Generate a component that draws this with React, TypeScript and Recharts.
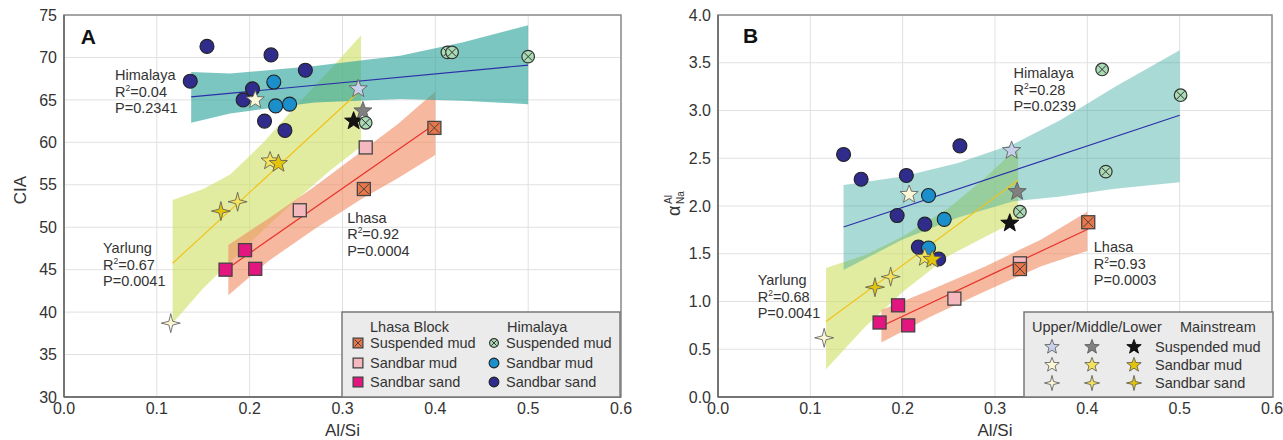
import React from "react";
import {
  ComposedChart,
  Scatter,
  Line,
  Area,
  XAxis,
  YAxis,
  CartesianGrid,
  ReferenceArea,
  ReferenceDot,
} from "recharts";

const FONT = "'Liberation Sans', Arial, Helvetica, sans-serif";

const xTicks = [0, 0.1, 0.2, 0.3, 0.4, 0.5, 0.6];
const ciaTicks = [30, 35, 40, 45, 50, 55, 60, 65, 70, 75];
const alphaTicks = [0, 0.5, 1, 1.5, 2, 2.5, 3, 3.5, 4];

// ---------- Panel A : CIA vs Al/Si ----------
const aHimSuspMud = [
  { x: 0.413, y: 70.6 },
  { x: 0.418, y: 70.6 },
  { x: 0.5, y: 70.1 },
  { x: 0.325, y: 62.3 },
];
const aHimSandbarMud = [
  { x: 0.226, y: 67.1 },
  { x: 0.228, y: 64.3 },
  { x: 0.243, y: 64.5 },
];
const aHimSandbarSand = [
  { x: 0.154, y: 71.3 },
  { x: 0.136, y: 67.2 },
  { x: 0.223, y: 70.3 },
  { x: 0.26, y: 68.5 },
  { x: 0.203, y: 66.3 },
  { x: 0.193, y: 65.0 },
  { x: 0.216, y: 62.5 },
  { x: 0.238, y: 61.4 },
];
const aLhSuspMud = [
  { x: 0.399, y: 61.7 },
  { x: 0.323, y: 54.5 },
];
const aLhSandbarMud = [
  { x: 0.325, y: 59.4 },
  { x: 0.254, y: 52.0 },
];
const aLhSandbarSand = [
  { x: 0.195, y: 47.3 },
  { x: 0.174, y: 45.0 },
  { x: 0.206, y: 45.1 },
];
const aUpperSusp = [{ x: 0.317, y: 66.3 }];
const aMiddleSusp = [{ x: 0.322, y: 63.7 }];
const aMainSusp = [{ x: 0.312, y: 62.5 }];
const aUpperMud = [{ x: 0.206, y: 65.0 }];
const aMiddleMud = [{ x: 0.222, y: 57.8 }];
const aMainMud = [{ x: 0.231, y: 57.5 }];
const aUpperSand = [{ x: 0.115, y: 38.7 }];
const aMiddleSand = [{ x: 0.187, y: 53.0 }];
const aMainSand = [{ x: 0.169, y: 51.9 }];

const aHimLine = [
  { x: 0.137, y: 65.35 },
  { x: 0.5, y: 69.1 },
];
const aLhLine = [
  { x: 0.177, y: 45.2 },
  { x: 0.4, y: 62.2 },
];
const aYarLine = [
  { x: 0.117, y: 45.75 },
  { x: 0.32, y: 66.2 },
];
const aHimBand = [
  { x: 0.137, band: [62.3, 68.3] },
  { x: 0.179, band: [63.4, 68.1] },
  { x: 0.27, band: [64.7, 69.0] },
  { x: 0.362, band: [65.1, 70.2] },
  { x: 0.43, band: [64.9, 71.8] },
  { x: 0.5, band: [64.5, 73.8] },
];
const aLhBand = [
  { x: 0.177, band: [42.0, 47.9] },
  { x: 0.22, band: [46.0, 51.0] },
  { x: 0.27, band: [49.8, 54.8] },
  { x: 0.32, band: [53.3, 58.9] },
  { x: 0.36, band: [55.8, 62.2] },
  { x: 0.4, band: [58.5, 66.0] },
];
const aYarBand = [
  { x: 0.117, band: [38.7, 53.2] },
  { x: 0.15, band: [42.8, 54.5] },
  { x: 0.179, band: [45.9, 56.2] },
  { x: 0.215, band: [49.7, 60.0] },
  { x: 0.25, band: [53.2, 64.3] },
  { x: 0.287, band: [56.7, 68.6] },
  { x: 0.32, band: [59.5, 72.6] },
];

// ---------- Panel B : alpha(Al/Na) vs Al/Si ----------
const bHimSuspMud = [
  { x: 0.416, y: 3.43 },
  { x: 0.501, y: 3.16 },
  { x: 0.42, y: 2.36 },
  { x: 0.327, y: 1.94 },
];
const bHimSandbarMud = [
  { x: 0.228, y: 2.11 },
  { x: 0.245, y: 1.86 },
  { x: 0.228, y: 1.56 },
];
const bHimSandbarSand = [
  { x: 0.136, y: 2.54 },
  { x: 0.155, y: 2.28 },
  { x: 0.204, y: 2.32 },
  { x: 0.262, y: 2.63 },
  { x: 0.194, y: 1.9 },
  { x: 0.224, y: 1.81 },
  { x: 0.217, y: 1.57 },
  { x: 0.239, y: 1.445 },
];
const bLhSuspMud = [
  { x: 0.401, y: 1.83 },
  { x: 0.327, y: 1.34 },
];
const bLhSandbarMud = [
  { x: 0.327, y: 1.4 },
  { x: 0.256, y: 1.03 },
];
const bLhSandbarSand = [
  { x: 0.195, y: 0.96 },
  { x: 0.175, y: 0.78 },
  { x: 0.206, y: 0.75 },
];
const bUpperSusp = [{ x: 0.318, y: 2.58 }];
const bMiddleSusp = [{ x: 0.324, y: 2.15 }];
const bMainSusp = [{ x: 0.316, y: 1.82 }];
const bUpperMud = [{ x: 0.207, y: 2.12 }];
const bMiddleMud = [{ x: 0.224, y: 1.46 }];
const bMainMud = [{ x: 0.232, y: 1.44 }];
const bUpperSand = [{ x: 0.115, y: 0.62 }];
const bMiddleSand = [{ x: 0.187, y: 1.26 }];
const bMainSand = [{ x: 0.17, y: 1.15 }];

const bHimLine = [
  { x: 0.136, y: 1.78 },
  { x: 0.5, y: 2.95 },
];
const bLhLine = [
  { x: 0.177, y: 0.74 },
  { x: 0.401, y: 1.76 },
];
const bYarLine = [
  { x: 0.117, y: 0.79 },
  { x: 0.325, y: 2.27 },
];
const bHimBand = [
  { x: 0.136, band: [1.33, 2.22] },
  { x: 0.2, band: [1.65, 2.31] },
  { x: 0.26, band: [1.88, 2.45] },
  { x: 0.32, band: [2.05, 2.65] },
  { x: 0.371, band: [2.1, 2.9] },
  { x: 0.43, band: [2.18, 3.25] },
  { x: 0.5, band: [2.25, 3.63] },
];
const bLhBand = [
  { x: 0.177, band: [0.57, 0.91] },
  { x: 0.23, band: [0.84, 1.12] },
  { x: 0.29, band: [1.11, 1.37] },
  { x: 0.35, band: [1.37, 1.65] },
  { x: 0.4, band: [1.53, 1.94] },
];
const bYarBand = [
  { x: 0.117, band: [0.29, 1.35] },
  { x: 0.16, band: [0.74, 1.49] },
  { x: 0.2, band: [1.1, 1.68] },
  { x: 0.25, band: [1.48, 1.98] },
  { x: 0.29, band: [1.68, 2.3] },
  { x: 0.325, band: [1.85, 2.62] },
];

const C = {
  himSusp: "#a9dbb4",
  himMud: "#1b8fcb",
  himSand: "#2f2c8c",
  lhSusp: "#e9774a",
  lhMud: "#f6b8bf",
  lhSand: "#e3157f",
  upSusp: "#c9d1ea",
  midSusp: "#808080",
  mainSusp: "#141414",
  upMud: "#fbf6d6",
  midMud: "#f4e35a",
  mainMud: "#e3c40a",
  teal: "#2aa399",
  yellow: "#cfe060",
  salmon: "#f08a60",
  himLine: "#2b2fa8",
  lhLine: "#e8322b",
  yarLine: "#f2c21b",
};

type Kind = "circle" | "xcircle" | "square" | "xsquare" | "star5" | "star4";

function starPoints(cx: number, cy: number, n: number, ro: number, ri: number) {
  const pts: string[] = [];
  for (let i = 0; i < n * 2; i++) {
    const r = i % 2 === 0 ? ro : ri;
    const a = -Math.PI / 2 + (i * Math.PI) / n;
    pts.push(`${cx + r * Math.cos(a)},${cy + r * Math.sin(a)}`);
  }
  return pts.join(" ");
}

function Marker({ kind, cx, cy, fill, s = 1 }: { kind: Kind; cx: number; cy: number; fill: string; s?: number }) {
  if (cx == null || cy == null) return null;
  switch (kind) {
    case "circle":
      return <circle cx={cx} cy={cy} r={7 * s} fill={fill} stroke="#222" strokeWidth={1.1} />;
    case "xcircle": {
      const r = 6.3 * s;
      const d = r * 0.62;
      return (
        <g>
          <circle cx={cx} cy={cy} r={r} fill={fill} stroke="#333" strokeWidth={1.2} />
          <line x1={cx - d} y1={cy - d} x2={cx + d} y2={cy + d} stroke="#333" strokeWidth={1} />
          <line x1={cx - d} y1={cy + d} x2={cx + d} y2={cy - d} stroke="#333" strokeWidth={1} />
        </g>
      );
    }
    case "square": {
      const h = 6.5 * s;
      return <rect x={cx - h} y={cy - h} width={2 * h} height={2 * h} fill={fill} stroke="#444" strokeWidth={1.3} />;
    }
    case "xsquare": {
      const h = 6.5 * s;
      const d = h - 1.5;
      return (
        <g>
          <rect x={cx - h} y={cy - h} width={2 * h} height={2 * h} fill={fill} stroke="#444" strokeWidth={1.3} />
          <line x1={cx - d} y1={cy - d} x2={cx + d} y2={cy + d} stroke="#444" strokeWidth={1} />
          <line x1={cx - d} y1={cy + d} x2={cx + d} y2={cy - d} stroke="#444" strokeWidth={1} />
        </g>
      );
    }
    case "star5":
      return (
        <polygon
          points={starPoints(cx, cy, 5, 9.5 * s, 4 * s)}
          fill={fill}
          stroke={fill === C.mainSusp ? "#000" : "#555"}
          strokeWidth={0.8}
        />
      );
    case "star4":
      return <polygon points={starPoints(cx, cy, 4, 9.5 * s, 2.7 * s)} fill={fill} stroke="#555" strokeWidth={0.8} />;
  }
  return null;
}

function Annot({ cx, cy, name, r2, p }: any) {
  if (cx == null) return null;
  return (
    <text x={cx} y={cy} fontSize={14.5} fill="#333" fontFamily={FONT}>
      <tspan x={cx} dy="0.35em">
        {name}
      </tspan>
      <tspan x={cx} dy={16.5}>
        R
      </tspan>
      <tspan fontSize={8.5} dy={-6}>
        2
      </tspan>
      <tspan dy={6}>={r2}</tspan>
      <tspan x={cx} dy={16.5}>
        P={p}
      </tspan>
    </text>
  );
}

type SeriesDef = { data: { x: number; y: number }[]; kind: Kind; fill: string };

const aSeries: SeriesDef[] = [
  { data: aHimSandbarSand, kind: "circle", fill: C.himSand },
  { data: aHimSandbarMud, kind: "circle", fill: C.himMud },
  { data: aLhSandbarSand, kind: "square", fill: C.lhSand },
  { data: aLhSandbarMud, kind: "square", fill: C.lhMud },
  { data: aUpperSand, kind: "star4", fill: C.upMud },
  { data: aMiddleSand, kind: "star4", fill: C.midMud },
  { data: aMainSand, kind: "star4", fill: C.mainMud },
  { data: aUpperMud, kind: "star5", fill: C.upMud },
  { data: aMiddleMud, kind: "star5", fill: C.midMud },
  { data: aMainMud, kind: "star5", fill: C.mainMud },
  { data: aUpperSusp, kind: "star5", fill: C.upSusp },
  { data: aMiddleSusp, kind: "star5", fill: C.midSusp },
  { data: aMainSusp, kind: "star5", fill: C.mainSusp },
  { data: aHimSuspMud, kind: "xcircle", fill: C.himSusp },
  { data: aLhSuspMud, kind: "xsquare", fill: C.lhSusp },
];

const bSeries: SeriesDef[] = [
  { data: bHimSandbarSand, kind: "circle", fill: C.himSand },
  { data: bHimSandbarMud, kind: "circle", fill: C.himMud },
  { data: bLhSandbarSand, kind: "square", fill: C.lhSand },
  { data: bLhSandbarMud, kind: "square", fill: C.lhMud },
  { data: bUpperSand, kind: "star4", fill: C.upMud },
  { data: bMiddleSand, kind: "star4", fill: C.midMud },
  { data: bMainSand, kind: "star4", fill: C.mainMud },
  { data: bUpperMud, kind: "star5", fill: C.upMud },
  { data: bMiddleMud, kind: "star5", fill: C.midMud },
  { data: bMainMud, kind: "star5", fill: C.mainMud },
  { data: bUpperSusp, kind: "star5", fill: C.upSusp },
  { data: bMiddleSusp, kind: "star5", fill: C.midSusp },
  { data: bMainSusp, kind: "star5", fill: C.mainSusp },
  { data: bHimSuspMud, kind: "xcircle", fill: C.himSusp },
  { data: bLhSuspMud, kind: "xsquare", fill: C.lhSusp },
];

type PanelProps = {
  width: number;
  yWidth: number;
  right: number;
  yDomain: [number, number];
  yTicks: number[];
  yFmt: (v: number) => string;
  tealOpacity: number;
  bands: { yar: any[]; lh: any[]; him: any[] };
  lines: { yar: any[]; lh: any[]; him: any[] };
  series: SeriesDef[];
  notes: { x: number; y: number; name: string; r2: string; p: string }[];
  letter: { x: number; y: number; text: string };
  yLabel: (vb: any) => React.ReactNode;
};

function Panel(props: PanelProps) {
  const { width, yWidth, right, yDomain, yTicks, yFmt, bands, lines, series, notes, letter, yLabel } = props;
  const tickStyle = { fontSize: 16, fill: "#333", fontFamily: FONT };
  return (
    <ComposedChart width={width} height={440} margin={{ top: 15, right, bottom: 0, left: 0 }}>
      <CartesianGrid stroke="#e1e1e1" strokeWidth={1} />
      <XAxis
        type="number"
        dataKey="x"
        domain={[0, 0.6]}
        ticks={xTicks}
        tickFormatter={(v: number) => v.toFixed(1)}
        height={43}
        tickSize={0}
        tickMargin={6}
        tick={tickStyle}
        axisLine={{ stroke: "#666", strokeWidth: 1.5 }}
        allowDataOverflow
        label={{
          content: ({ viewBox }: any) => (
            <text
              x={viewBox.x + viewBox.width / 2}
              y={viewBox.y + 39}
              textAnchor="middle"
              fontSize={17}
              fill="#333"
              fontFamily={FONT}
            >
              Al/Si
            </text>
          ),
        }}
      />
      <YAxis
        type="number"
        dataKey="y"
        domain={yDomain}
        ticks={yTicks}
        tickFormatter={yFmt}
        width={yWidth}
        tickSize={0}
        tickMargin={7}
        tick={tickStyle}
        axisLine={{ stroke: "#666", strokeWidth: 1.5 }}
        allowDataOverflow
        label={{ content: ({ viewBox }: any) => yLabel(viewBox) }}
      />
      <ReferenceArea x1={0} x2={0.6} y1={yDomain[0]} y2={yDomain[1]} fill="none" stroke="#8c8c8c" strokeWidth={1.5} />
      <Area
        data={bands.yar}
        dataKey="band"
        type="linear"
        fill={C.yellow}
        fillOpacity={0.6}
        stroke="none"
        isAnimationActive={false}
        activeDot={false}
      />
      <Area
        data={bands.lh}
        dataKey="band"
        type="linear"
        fill={C.salmon}
        fillOpacity={0.6}
        stroke="none"
        isAnimationActive={false}
        activeDot={false}
      />
      <Area
        data={bands.him}
        dataKey="band"
        type="linear"
        fill={C.teal}
        fillOpacity={props.tealOpacity}
        stroke="none"
        isAnimationActive={false}
        activeDot={false}
      />
      <Line data={lines.yar} dataKey="y" type="linear" stroke={C.yarLine} strokeWidth={1.2} dot={false} isAnimationActive={false} />
      <Line data={lines.lh} dataKey="y" type="linear" stroke={C.lhLine} strokeWidth={1.2} dot={false} isAnimationActive={false} />
      <Line data={lines.him} dataKey="y" type="linear" stroke={C.himLine} strokeWidth={1.2} dot={false} isAnimationActive={false} />
      {series.map((s, i) => (
        <Scatter
          key={i}
          data={s.data}
          isAnimationActive={false}
          shape={(p: any) => <Marker kind={s.kind} cx={p.cx} cy={p.cy} fill={s.fill} />}
        />
      ))}
      {notes.map((n, i) => (
        <ReferenceDot
          key={`n${i}`}
          x={n.x}
          y={n.y}
          r={0}
          ifOverflow="visible"
          shape={(p: any) => <Annot cx={p.cx} cy={p.cy} name={n.name} r2={n.r2} p={n.p} />}
        />
      ))}
      <ReferenceDot
        x={letter.x}
        y={letter.y}
        r={0}
        ifOverflow="visible"
        shape={(p: any) => (
          <text x={p.cx} y={p.cy} dy="0.35em" fontSize={21} fontWeight="bold" fill="#111" fontFamily={FONT}>
            {letter.text}
          </text>
        )}
      />
    </ComposedChart>
  );
}

const aNotes = [
  { x: 0.055, y: 67.9, name: "Himalaya", r2: "0.04", p: "0.2341" },
  { x: 0.042, y: 47.55, name: "Yarlung", r2: "0.67", p: "0.0041" },
  { x: 0.305, y: 51.1, name: "Lhasa", r2: "0.92", p: "0.0004" },
];
const bNotes = [
  { x: 0.32, y: 3.39, name: "Himalaya", r2: "0.28", p: "0.0239" },
  { x: 0.043, y: 1.225, name: "Yarlung", r2: "0.68", p: "0.0041" },
  { x: 0.407, y: 1.57, name: "Lhasa", r2: "0.93", p: "0.0003" },
];

const legendARows = [
  { kind: "xsquare" as Kind, fill: C.lhSusp, label: "Suspended mud" },
  { kind: "square" as Kind, fill: C.lhMud, label: "Sandbar mud" },
  { kind: "square" as Kind, fill: C.lhSand, label: "Sandbar sand" },
];
const legendARowsHim = [
  { kind: "xcircle" as Kind, fill: C.himSusp, label: "Suspended mud" },
  { kind: "circle" as Kind, fill: C.himMud, label: "Sandbar mud" },
  { kind: "circle" as Kind, fill: C.himSand, label: "Sandbar sand" },
];
const legendBRows = [
  { kind: "star5" as Kind, fills: [C.upSusp, C.midSusp, C.mainSusp], label: "Suspended mud" },
  { kind: "star5" as Kind, fills: [C.upMud, C.midMud, C.mainMud], label: "Sandbar mud" },
  { kind: "star4" as Kind, fills: [C.upMud, C.midMud, C.mainMud], label: "Sandbar sand" },
];

function LegendA() {
  const rowY = [32, 52, 71];
  return (
    <svg width={280} height={87} style={{ position: "absolute", left: 341, top: 311 }}>
      <rect x={1} y={1} width={278} height={85} fill="#ebebeb" stroke="#7a7a7a" strokeWidth={1.5} />
      <g fontFamily={FONT} fontSize={14.5} fill="#333">
        <text x={29} y={16} dy="0.35em">
          Lhasa Block
        </text>
        <text x={166} y={16} dy="0.35em">
          Himalaya
        </text>
        {legendARows.map((r, i) => (
          <g key={`l${i}`}>
            <Marker kind={r.kind} cx={17} cy={rowY[i]} fill={r.fill} s={0.75} />
            <text x={29} y={rowY[i]} dy="0.35em">
              {r.label}
            </text>
          </g>
        ))}
        {legendARowsHim.map((r, i) => (
          <g key={`h${i}`}>
            <Marker kind={r.kind} cx={153} cy={rowY[i]} fill={r.fill} s={0.7} />
            <text x={165} y={rowY[i]} dy="0.35em">
              {r.label}
            </text>
          </g>
        ))}
      </g>
    </svg>
  );
}

function LegendB() {
  const rowY = [36, 54, 72];
  const colX = [29, 69, 111];
  return (
    <svg width={251} height={87} style={{ position: "absolute", left: 1023, top: 311 }}>
      <rect x={1} y={1} width={249} height={85} fill="#ebebeb" stroke="#7a7a7a" strokeWidth={1.5} />
      <g fontFamily={FONT} fontSize={14.5} fill="#333">
        <text x={9} y={16} dy="0.35em">
          Upper/Middle/Lower
        </text>
        <text x={157} y={16} dy="0.35em">
          Mainstream
        </text>
        {legendBRows.map((r, i) => (
          <g key={`b${i}`}>
            {r.fills.map((f, j) => (
              <Marker key={j} kind={r.kind} cx={colX[j]} cy={rowY[i]} fill={f} s={0.8} />
            ))}
            <text x={132} y={rowY[i]} dy="0.35em">
              {r.label}
            </text>
          </g>
        ))}
      </g>
    </svg>
  );
}

export default function App() {
  return (
    <div style={{ position: "absolute", left: 0, top: 0, width: 1283, height: 440, background: "#fff" }}>
      <div style={{ position: "absolute", left: 0, top: 0 }}>
        <Panel
          width={640}
          yWidth={64}
          right={19}
          yDomain={[30, 75]}
          yTicks={ciaTicks}
          yFmt={(v) => String(v)}
          tealOpacity={0.62}
          bands={{ yar: aYarBand, lh: aLhBand, him: aHimBand }}
          lines={{ yar: aYarLine, lh: aLhLine, him: aHimLine }}
          series={aSeries}
          notes={aNotes}
          letter={{ x: 0.018, y: 72.5, text: "A" }}
          yLabel={(vb) => (
            <text
              transform={`translate(${vb.x + 20}, 190) rotate(-90)`}
              textAnchor="middle"
              dy="0.35em"
              fontSize={17}
              fill="#333"
              fontFamily={FONT}
            >
              CIA
            </text>
          )}
        />
      </div>
      <div style={{ position: "absolute", left: 640, top: 0 }}>
        <Panel
          width={643}
          yWidth={78}
          right={11}
          yDomain={[0, 4]}
          yTicks={alphaTicks}
          yFmt={(v) => v.toFixed(1)}
          tealOpacity={0.4}
          bands={{ yar: bYarBand, lh: bLhBand, him: bHimBand }}
          lines={{ yar: bYarLine, lh: bLhLine, him: bHimLine }}
          series={bSeries}
          notes={bNotes}
          letter={{ x: 0.027, y: 3.78, text: "B" }}
          yLabel={(vb) => (
            <g transform={`translate(${vb.x + 34}, 205) rotate(-90)`} fontFamily={FONT} fill="#333">
              <text x={-11} y={6} fontSize={18}>
                α
              </text>
              <text x={1} y={-2} fontSize={10}>
                Al
              </text>
              <text x={1} y={10} fontSize={10}>
                Na
              </text>
            </g>
          )}
        />
      </div>
      <LegendA />
      <LegendB />
    </div>
  );
}
